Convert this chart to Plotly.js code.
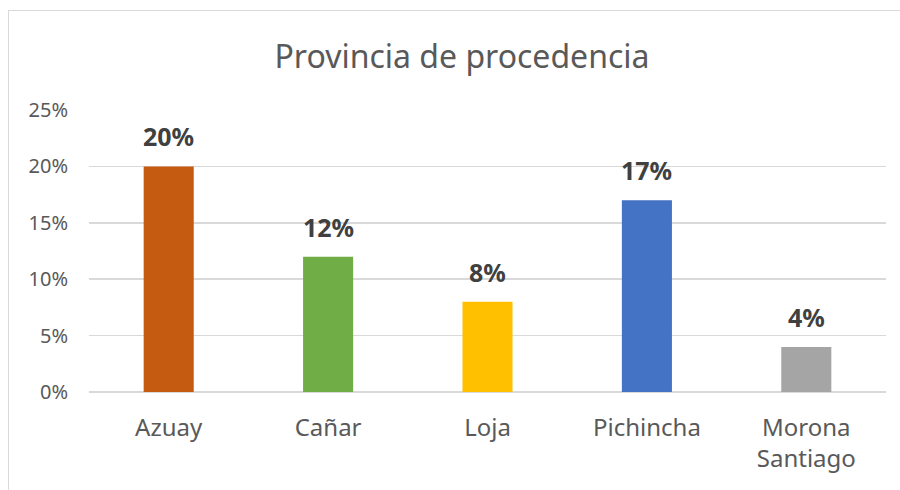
<!DOCTYPE html>
<html>
<head>
<meta charset="utf-8">
<script src="https://cdn.plot.ly/plotly-3.0.1.min.js"></script>
<style>
  html, body { margin: 0; padding: 0; background: #ffffff; overflow: hidden; }
  #chart { width: 900px; height: 490px; }
  #frame { position: absolute; left: 8px; top: 10px; width: 1000px; height: 1000px;
           border: 1px solid #d9d9d9; pointer-events: none; }
</style>
</head>
<body>
<div id="chart"></div>
<div id="frame"></div>
<script>
const categories = ["Azuay", "Cañar", "Loja", "Pichincha", "Morona<br>Santiago"];
const values = [0.20, 0.12, 0.08, 0.17, 0.04];
const valueLabels = ["20%", "12%", "8%", "17%", "4%"];
const barColors = ["#C55A11", "#70AD47", "#FFC000", "#4472C4", "#A5A5A5"];
const yTickValues = [0, 0.05, 0.10, 0.15, 0.20, 0.25];
const yTickLabels = ["0%", "5%", "10%", "15%", "20%", "25%"];
const chartTitle = "Provincia de procedencia";

const font = "'Noto Sans', 'Open Sans', sans-serif";

const trace = {
  type: "bar",
  x: categories,
  y: values,
  marker: { color: barColors, line: { width: 0 } },
  hoverinfo: "none"
};

const annotations = categories.map((c, i) => ({
  x: c,
  y: values[i],
  xref: "x",
  yref: "y",
  text: "<b>" + valueLabels[i] + "</b>",
  showarrow: false,
  yanchor: "bottom",
  yshift: 11,
  font: { family: font, size: 25, color: "#404040" }
}));

const layout = {
  width: 900,
  height: 490,
  margin: { l: 89, r: 14, t: 110, b: 98 },
  paper_bgcolor: "#ffffff",
  plot_bgcolor: "#ffffff",
  showlegend: false,
  bargap: 0.686,
  title: {
    text: chartTitle,
    x: 462 / 900,
    xref: "container",
    xanchor: "center",
    y: (490 - 57) / 490,
    yref: "container",
    yanchor: "middle",
    font: { family: font, size: 32, color: "#595959" }
  },
  xaxis: {
    type: "category",
    showgrid: false,
    zeroline: false,
    showline: false,
    ticks: "",
    ticklabelstandoff: 19,
    tickfont: { family: font, size: 24, color: "#595959" }
  },
  yaxis: {
    range: [0, 0.25],
    tickvals: yTickValues,
    ticktext: yTickLabels,
    showgrid: true,
    gridcolor: "#d9d9d9",
    gridwidth: 1.5,
    zeroline: true,
    zerolinecolor: "#d9d9d9",
    zerolinewidth: 1.5,
    showline: false,
    ticks: "",
    ticklabelstandoff: 20,
    tickfont: { family: font, size: 20, color: "#595959" }
  },
  annotations: annotations
};

Plotly.newPlot("chart", [trace], layout, { displayModeBar: false, staticPlot: true });
</script>
</body>
</html>
